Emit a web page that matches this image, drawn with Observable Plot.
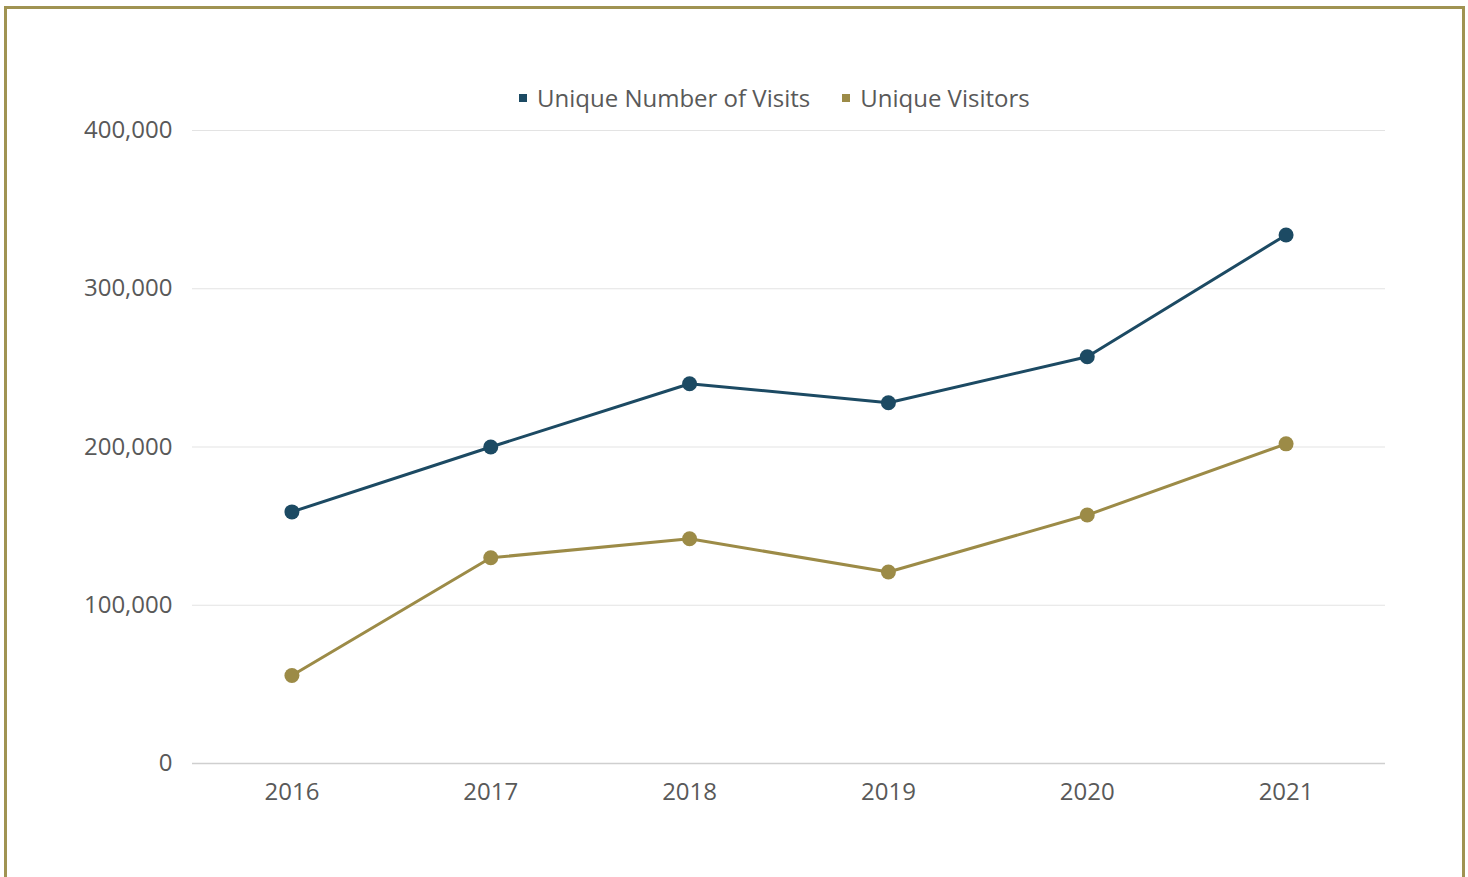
<!DOCTYPE html>
<html>
<head>
<meta charset="utf-8">
<script src="https://cdn.jsdelivr.net/npm/d3@7"></script>
<script src="https://cdn.jsdelivr.net/npm/@observablehq/plot@0.6"></script>
<style>
  html, body { margin: 0; padding: 0; background: #fff; overflow: hidden; }
  body { width: 1468px; height: 877px; position: relative; font-family: "Open Sans", sans-serif; }
  #frame { position: absolute; left: 4px; top: 6px; width: 1455px; height: 900px; border: 3px solid #a09352; box-sizing: content-box; }
  #chart { position: absolute; left: 0; top: 0; }
  #legend { position: absolute; left: 519px; top: 81px; display: flex; align-items: center; font-size: 24px; color: #595959; white-space: nowrap; }
  .item { display: flex; align-items: center; margin-right: 32px; }
  .sw { width: 8px; height: 8px; margin-right: 10px; }
</style>
</head>
<body>
<div id="frame"></div>
<div id="chart"></div>
<div id="legend"></div>
<script>
const years = ["2016", "2017", "2018", "2019", "2020", "2021"];
const visits = [159000, 200000, 240000, 228000, 257000, 334000];
const visitors = [55600, 130000, 142000, 121000, 157000, 202000];
const seriesNames = ["Unique Number of Visits", "Unique Visitors"];
const seriesColors = ["#1c4a63", "#9c8b47"];
const yTicks = [0, 100000, 200000, 300000, 400000];

const data = [];
years.forEach((yr, i) => {
  data.push({year: yr, value: visits[i], series: seriesNames[0]});
  data.push({year: yr, value: visitors[i], series: seriesNames[1]});
});

const chart = Plot.plot({
  width: 1468,
  height: 877,
  marginLeft: 192,
  marginRight: 83,
  marginTop: 130,
  marginBottom: 114,
  style: {fontFamily: "Open Sans, sans-serif", fontSize: "24px", color: "#595959", background: "transparent"},
  x: {type: "point", domain: years, padding: 0.5, round: false, label: null},
  y: {domain: [0, 400000], label: null},
  color: {domain: seriesNames, range: seriesColors},
  marks: [
    Plot.ruleY(yTicks.filter(d => d > 0), {stroke: "#e3e3e3", strokeWidth: 1.2}),
    Plot.ruleY([0], {stroke: "#cfcfcf", strokeWidth: 1.5}),
    Plot.axisY({ticks: yTicks, tickSize: 0, tickPadding: 20, tickFormat: d3.format(","), fill: "#595959", fontSize: 24}),
    Plot.axisX({tickSize: 0, tickPadding: 19, fill: "#595959", fontSize: 24}),
    Plot.line(data, {x: "year", y: "value", z: "series", stroke: "series", strokeWidth: 3}),
    Plot.dot(data, {x: "year", y: "value", fill: "series", r: 7.5})
  ]
});
document.getElementById("chart").appendChild(chart);

const legend = document.getElementById("legend");
seriesNames.forEach((name, i) => {
  const item = document.createElement("div");
  item.className = "item";
  const sw = document.createElement("span");
  sw.className = "sw";
  sw.style.background = seriesColors[i];
  const label = document.createElement("span");
  label.textContent = name;
  item.appendChild(sw);
  item.appendChild(label);
  legend.appendChild(item);
});
</script>
</body>
</html>
